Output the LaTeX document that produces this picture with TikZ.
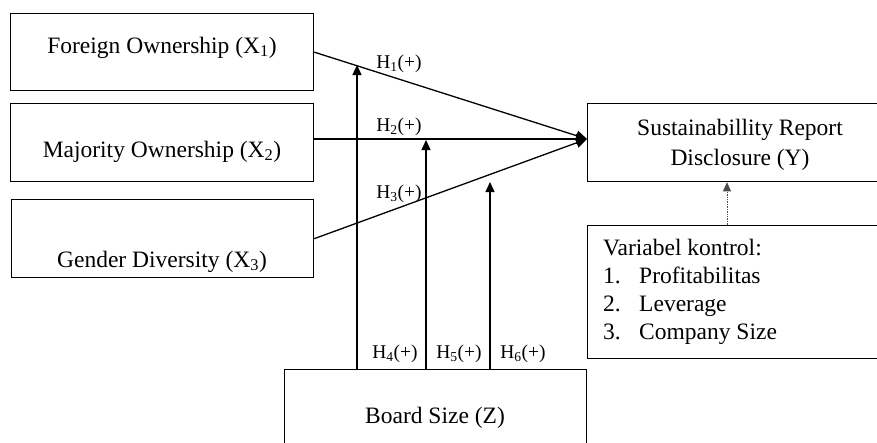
\documentclass[tikz,border=0pt]{standalone}
\usepackage{fontspec}
\setmainfont{Liberation Serif}
\usetikzlibrary{arrows.meta,calc}
\tikzset{
  box/.style={draw, line width=1.3pt, inner sep=0pt, anchor=north west},
  big/.style={font=\fontsize{23.5pt}{28pt}\selectfont, inner sep=0pt},
  hlab/.style={font=\fontsize{19.5pt}{22pt}\selectfont, inner sep=0pt, anchor=base},
  conn/.style={line width=1.3pt, -{Triangle[length=11pt,width=10pt]}},
  vconn/.style={line width=1.3pt, -{Triangle[length=10pt,width=9pt]}},
  ctrl/.style={line width=0.7pt, densely dotted, black!70, -{Triangle[length=9pt,width=8pt]}}
}
\begin{document}
\begin{tikzpicture}[x=1pt,y=-1pt]
\useasboundingbox (0,0) rectangle (877,442);
\clip (0,0) rectangle (877,442);
% boxes
\node[box, minimum width=303pt, minimum height=77pt] (x1) at (10,13) {};
\node[box, minimum width=303pt, minimum height=78pt] (x2) at (10,103) {};
\node[box, minimum width=302pt, minimum height=78pt] (x3) at (11,199) {};
\node[box, minimum width=306pt, minimum height=78pt] (y) at (587,103) {};
\node[box, minimum width=306pt, minimum height=133pt] (c) at (587,225) {};
\node[box, minimum width=302pt, minimum height=94pt] (z) at (284,369) {};
% texts
\node[big, anchor=base] (tx1) at (162,53) {Foreign Ownership (X\textsubscript{1})};
\node[big, anchor=base] (tx2) at (162,157) {Majority Ownership (X\textsubscript{2})};
\node[big, anchor=base] (tx3) at (162,267) {Gender Diversity (X\textsubscript{3})};
\node[big, anchor=base] (ty1) at (740,135) {Sustainabillity Report};
\node[big, anchor=base] (ty2) at (740,165) {Disclosure (Y)};
\node[big, anchor=base] (tz) at (435,423) {Board Size (Z)};
\node[big, anchor=base west] (c0) at (603,255) {Variabel kontrol:};
\node[big, anchor=base west] (c1n) at (603,283) {1.};
\node[big, anchor=base west] (c1) at (639,283) {Profitabilitas};
\node[big, anchor=base west] (c2n) at (603,311) {2.};
\node[big, anchor=base west] (c2) at (639,311) {Leverage};
\node[big, anchor=base west] (c3n) at (603,339) {3.};
\node[big, anchor=base west] (c3) at (639,339) {Company Size};
% convergence point and moderation targets
\coordinate (tip) at (587,139);
\coordinate (m1) at (357,65);
\coordinate (m2) at (426,140);
\coordinate (m3) at (490,182);
% main connectors
\draw[conn] (x1.east) -- (tip);
\draw[conn] (x2.east |- tip) -- (tip);
\draw[conn] (x3.east) -- (tip);
% moderation connectors
\draw[vconn] (m1 |- z.north) -- (m1);
\draw[vconn] (m2 |- z.north) -- (m2);
\draw[vconn] (m3 |- z.north) -- (m3);
% control
\draw[ctrl] (c.north -| 727,0) -- (y.south -| 727,0);
% labels
\node[hlab] (h1) at (399,68) {H\textsubscript{1}(+)};
\node[hlab] (h2) at (399,131) {H\textsubscript{2}(+)};
\node[hlab] (h3) at (399,198) {H\textsubscript{3}(+)};
\node[hlab] (h4) at (395,358) {H\textsubscript{4}(+)};
\node[hlab] (h5) at (459,358) {H\textsubscript{5}(+)};
\node[hlab] (h6) at (523,358) {H\textsubscript{6}(+)};
\end{tikzpicture}
\end{document}
